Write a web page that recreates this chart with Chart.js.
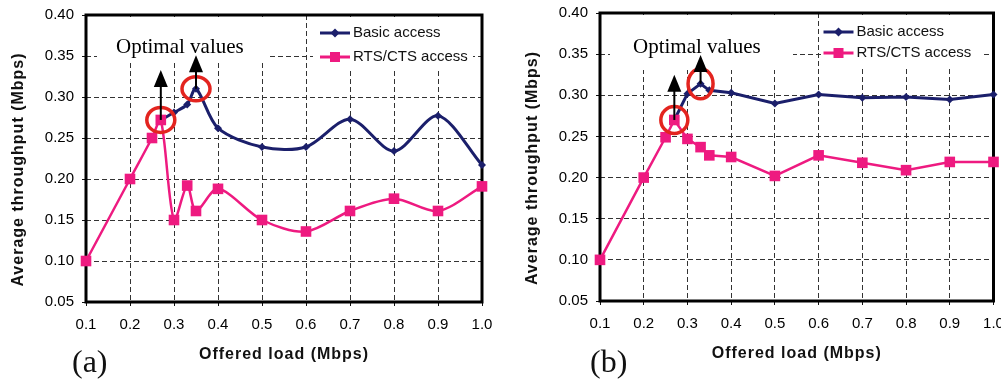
<!DOCTYPE html>
<html>
<head>
<meta charset="utf-8">
<script src="https://cdn.jsdelivr.net/npm/chart.js@4.4.0/dist/chart.umd.min.js"></script>
<style>
  body { margin: 0; background: #fff; width: 1001px; height: 385px; overflow: hidden; position: relative; }
  canvas { position: absolute; top: 0; }
  #chartA { left: 0; }
  #chartB { left: 500px; }
  .panel { position: absolute; top: 345px; font-family: "Liberation Serif", "Times New Roman", serif; font-size: 32px; line-height: 1; color: #111; }
</style>
</head>
<body>
<canvas id="chartA" width="500" height="385"></canvas>
<canvas id="chartB" width="501" height="385"></canvas>
<div class="panel" style="left:72px">(a)</div>
<div class="panel" style="left:590px">(b)</div>

<script>
// offered load (Mbps) -> average throughput (Mbps)
const loadTicks = [0.1, 0.2, 0.3, 0.4, 0.5, 0.6, 0.7, 0.8, 0.9, 1.0];
const tputTicks = [0.05, 0.10, 0.15, 0.20, 0.25, 0.30, 0.35, 0.40];

// panel (a)
const basicLoadA = [0.27, 0.30, 0.33, 0.35, 0.4, 0.5, 0.6, 0.7, 0.8, 0.9, 1.0];
const basicA     = [0.272, 0.281, 0.291, 0.310, 0.262, 0.239, 0.239, 0.273, 0.234, 0.277, 0.217];
const rtsLoadA   = [0.1, 0.2, 0.25, 0.27, 0.30, 0.33, 0.35, 0.4, 0.5, 0.6, 0.7, 0.8, 0.9, 1.0];
const rtsA       = [0.100, 0.200, 0.250, 0.272, 0.150, 0.192, 0.161, 0.188, 0.150, 0.136, 0.161, 0.176, 0.161, 0.191];
const optimalLoadA = [0.27, 0.35];
const optimalTputA = [0.272, 0.310];
const arrowTipA    = [0.333, 0.351];

// panel (b)
const basicLoadB = [0.27, 0.30, 0.33, 0.35, 0.4, 0.5, 0.6, 0.7, 0.8, 0.9, 1.0];
const basicB     = [0.270, 0.302, 0.314, 0.306, 0.303, 0.290, 0.301, 0.297, 0.298, 0.295, 0.301];
const rtsLoadB   = [0.1, 0.2, 0.25, 0.27, 0.30, 0.33, 0.35, 0.4, 0.5, 0.6, 0.7, 0.8, 0.9, 1.0];
const rtsB       = [0.100, 0.200, 0.249, 0.270, 0.247, 0.237, 0.227, 0.225, 0.202, 0.227, 0.218, 0.209, 0.219, 0.219];
const optimalLoadB = [0.27, 0.33];
const optimalTputB = [0.270, 0.314];
const arrowTipB    = [0.325, 0.349];

const NAVY = '#1b1f6b';
const PINK = '#ee1a80';
const RED = '#e3241f';
const SANS = '"Liberation Sans", Arial, sans-serif';
const SERIF = '"Liberation Serif", "Times New Roman", serif';

function points(xs, ys) {
  return xs.map((x, i) => ({ x: x, y: ys[i] }));
}

// frame, white boxes, axis titles, legend and the "optimal values" marks
function decorations(n) {
  return {
    id: 'decor',
    beforeDatasetsDraw(chart) {
      const { ctx, chartArea: a } = chart;
      ctx.save();
      ctx.fillStyle = '#fff';
      ctx.fillRect(a.left + n.textBox[0], a.top + 2, n.textBox[1], n.textBox[2]);
      ctx.fillRect(a.right - n.legendBox[0], a.top + 2, n.legendBox[1], n.legendBox[2]);
      ctx.strokeStyle = '#000';
      ctx.lineWidth = 3;
      ctx.strokeRect(a.left, a.top, a.right - a.left, a.bottom - a.top);

      ctx.fillStyle = '#111';
      ctx.font = 'bold 16px ' + SANS;
      ctx.letterSpacing = '1px';
      ctx.textAlign = 'center';
      ctx.textBaseline = 'middle';
      ctx.fillText('Offered load (Mbps)', (a.left + a.right) / 2, a.bottom + 53);
      ctx.translate(a.left - 67, (a.top + a.bottom) / 2 + 11);
      ctx.rotate(-Math.PI / 2);
      ctx.fillText('Average throughput (Mbps)', 0, 0);
      ctx.restore();
    },
    afterDatasetsDraw(chart) {
      const { ctx, chartArea: a, scales } = chart;
      ctx.save();
      ctx.fillStyle = '#000';
      ctx.font = '21px ' + SERIF;
      ctx.textAlign = 'left';
      ctx.textBaseline = 'alphabetic';
      ctx.fillText('Optimal values', a.left + n.textX, a.top + n.textY);

      n.optLoad.forEach((load, i) => {
        const x = scales.x.getPixelForValue(load);
        const y = scales.y.getPixelForValue(n.optTput[i]);
        const tip = scales.y.getPixelForValue(n.tip[i]);
        ctx.strokeStyle = RED;
        ctx.lineWidth = 3.5;
        ctx.beginPath();
        ctx.ellipse(x, y, n.ring[i][0], n.ring[i][1], 0, 0, Math.PI * 2);
        ctx.stroke();
        ctx.strokeStyle = '#000';
        ctx.lineWidth = 2;
        ctx.beginPath();
        ctx.moveTo(x, y);
        ctx.lineTo(x, tip + 15);
        ctx.stroke();
        ctx.beginPath();
        ctx.moveTo(x, tip);
        ctx.lineTo(x - 7, tip + 17);
        ctx.lineTo(x + 7, tip + 17);
        ctx.closePath();
        ctx.fill();
      });

      // legend, basic access first
      const lx = a.right - n.legendX;
      ctx.font = '15px ' + SANS;
      ctx.textBaseline = 'middle';
      [chart.data.datasets[1], chart.data.datasets[0]].forEach((ds, i) => {
        const y = a.top + n.legendRows[i];
        ctx.strokeStyle = ds.borderColor;
        ctx.fillStyle = ds.borderColor;
        ctx.lineWidth = 3;
        ctx.beginPath();
        ctx.moveTo(lx, y);
        ctx.lineTo(lx + 30, y);
        ctx.stroke();
        if (ds.pointStyle === 'rect') {
          ctx.fillRect(lx + 10, y - 5, 10, 10);
        } else {
          ctx.beginPath();
          ctx.moveTo(lx + 15, y - 4.5);
          ctx.lineTo(lx + 19.5, y);
          ctx.lineTo(lx + 15, y + 4.5);
          ctx.lineTo(lx + 10.5, y);
          ctx.closePath();
          ctx.fill();
        }
        ctx.fillStyle = '#111';
        ctx.fillText(ds.label, lx + 33, y);
      });
      ctx.restore();
    }
  };
}

function makeChart(id, d, n) {
  return new Chart(document.getElementById(id), {
    type: 'line',
    data: {
      datasets: [
        {
          label: 'RTS/CTS access',
          data: points(d.rtsLoad, d.rts),
          borderColor: PINK,
          backgroundColor: PINK,
          borderWidth: 2.5,
          pointStyle: 'rect',
          pointRadius: 7.5,
          pointBorderWidth: 0,
          tension: n.tension,
          clip: false,
          order: 0
        },
        {
          label: 'Basic access',
          data: points(d.basicLoad, d.basic),
          borderColor: NAVY,
          backgroundColor: NAVY,
          borderWidth: 3,
          pointStyle: 'rectRot',
          pointRadius: 4,
          pointBorderWidth: 0,
          tension: n.tension,
          clip: false,
          order: 1
        }
      ]
    },
    options: {
      responsive: false,
      animation: false,
      layout: { padding: n.padding },
      plugins: { legend: { display: false }, tooltip: { enabled: false } },
      scales: {
        x: {
          type: 'linear',
          min: 0.1,
          max: 1.0,
          afterBuildTicks: s => { s.ticks = loadTicks.map(v => ({ value: v })); },
          afterFit: s => { s.height = n.xAxisHeight; s.paddingLeft = 0; s.paddingRight = 0; },
          ticks: { callback: v => v.toFixed(1), font: { family: SANS, size: 15 }, color: '#000', padding: 10, maxRotation: 0, autoSkip: false },
          grid: { color: '#333', lineWidth: 1, tickLength: 4, tickColor: '#111' },
          border: { display: false, dash: [5, 3] }
        },
        y: {
          min: 0.05,
          max: 0.40,
          afterBuildTicks: s => { s.ticks = tputTicks.map(v => ({ value: v })); },
          afterFit: s => { s.width = n.yAxisWidth; s.paddingTop = 0; s.paddingBottom = 0; },
          ticks: { callback: v => v.toFixed(2), font: { family: SANS, size: 15 }, color: '#000', padding: 8 },
          grid: { color: '#333', lineWidth: 1, tickLength: 4, tickColor: '#111' },
          border: { display: false, dash: [5, 3] }
        }
      }
    },
    plugins: [decorations(n)]
  });
}

makeChart('chartA',
  { basicLoad: basicLoadA, basic: basicA, rtsLoad: rtsLoadA, rts: rtsA },
  {
    padding: { top: 15, right: 18, left: 0, bottom: 0 },
    xAxisHeight: 83, yAxisWidth: 86, tension: 0.3,
    optLoad: optimalLoadA, optTput: optimalTputA, tip: arrowTipA,
    ring: [[14, 12.5], [14, 12]],
    textX: 30, textY: 38, textBox: [11, 170, 45],
    legendX: 162, legendRows: [18, 42], legendBox: [169, 160, 51]
  });

makeChart('chartB',
  { basicLoad: basicLoadB, basic: basicB, rtsLoad: rtsLoadB, rts: rtsB },
  {
    padding: { top: 13, right: 1, left: 0, bottom: 0 },
    xAxisHeight: 84, yAxisWidth: 100, tension: 0,
    optLoad: optimalLoadB, optTput: optimalTputB, tip: arrowTipB,
    ring: [[13.5, 13.5], [12.5, 15]],
    textX: 33, textY: 40, textBox: [10, 183, 55],
    legendX: 170, legendRows: [19, 40], legendBox: [172, 162, 54]
  });
</script>
</body>
</html>
